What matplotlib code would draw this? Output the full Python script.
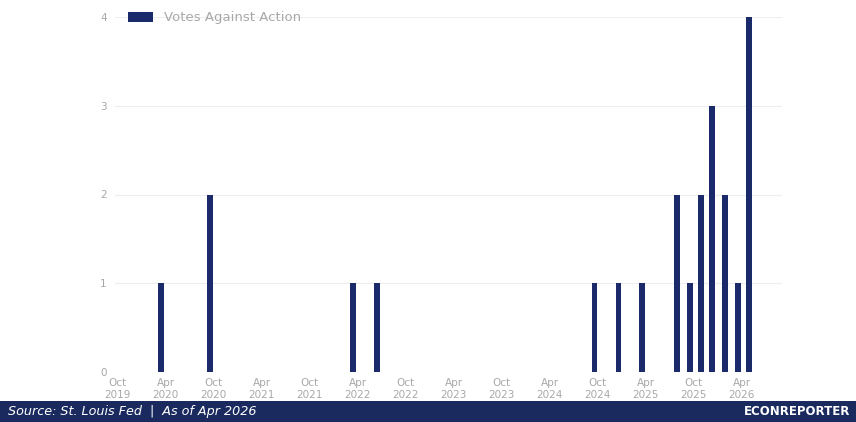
#!/usr/bin/env python3
"""FOMC dissents per meeting, bar chart with branded footer."""

import matplotlib

matplotlib.use("Agg")
import matplotlib.dates as mdates
import matplotlib.pyplot as plt
import pandas as pd
from matplotlib.patches import Rectangle

NAVY = "#1B2A6B"
FOOTER = "#1A2A5E"
GREY = "#A8A8A8"
GRID = "#EEEEEE"

# meeting dates and number of votes against the policy action
meeting_dates = [
    "2020-03-15", "2020-09-16", "2022-03-16", "2022-06-15",
    "2024-09-18", "2024-12-18", "2025-03-19", "2025-07-30",
    "2025-09-17", "2025-10-29", "2025-12-10", "2026-01-28",
    "2026-03-18", "2026-04-29",
]
dissents = [1, 2, 1, 1, 1, 1, 1, 2, 1, 2, 3, 2, 1, 4]

y_ticks = [0, 1, 2, 3, 4]
x_start, x_end = "2019-09-22", "2026-09-01"
tick_start, tick_end = "2019-10-01", "2026-04-01"

SOURCE = "Source: St. Louis Fed  |  As of Apr 2026"
BRAND = "ECONREPORTER"


def main():
    plt.rcParams["font.family"] = ["DejaVu Sans"]
    dates = pd.to_datetime(meeting_dates)

    fig = plt.figure(figsize=(8.56, 4.22), dpi=100)
    ax = fig.add_axes([115 / 856, 1 - 372 / 422, (782 - 115) / 856, (372 - 17) / 422])

    ax.bar(dates, dissents, width=22, color=NAVY, label="Votes Against Action", zorder=3)

    ax.set_xlim(pd.Timestamp(x_start), pd.Timestamp(x_end))
    ax.set_ylim(0, 4)
    ax.set_yticks(y_ticks)
    ticks = pd.date_range(tick_start, tick_end, freq="6MS")
    ax.set_xticks(ticks)
    ax.xaxis.set_major_formatter(mdates.DateFormatter("%b\n%Y"))

    ax.tick_params(axis="both", length=0, colors=GREY, labelsize=7.5)
    ax.tick_params(axis="y", pad=6)
    ax.tick_params(axis="x", pad=4)
    for lab in ax.get_xticklabels():
        lab.set_linespacing(1.25)
    ax.grid(axis="y", color=GRID, lw=0.8, zorder=0)
    for s in ax.spines.values():
        s.set_visible(False)

    leg = ax.legend(loc="upper left", bbox_to_anchor=(0.006, 1.042), frameon=False,
                    fontsize=9.5, handlelength=1.9, handleheight=0.75, borderaxespad=0.3)
    for t in leg.get_texts():
        t.set_color(GREY)

    # footer band
    fig.patches.append(Rectangle((0, 0), 1, 21 / 422, transform=fig.transFigure,
                                 facecolor=FOOTER, edgecolor="none", zorder=0))
    fig.text(8 / 856, 10.5 / 422, SOURCE, color="white", fontsize=9.2, style="italic",
             va="center", ha="left")
    fig.text(850 / 856, 10.5 / 422, BRAND, color="white", fontsize=8.5, fontweight="bold",
             va="center", ha="right")

    fig.savefig("out.png", dpi=100, facecolor="white")
    plt.close(fig)


if __name__ == "__main__":
    main()
